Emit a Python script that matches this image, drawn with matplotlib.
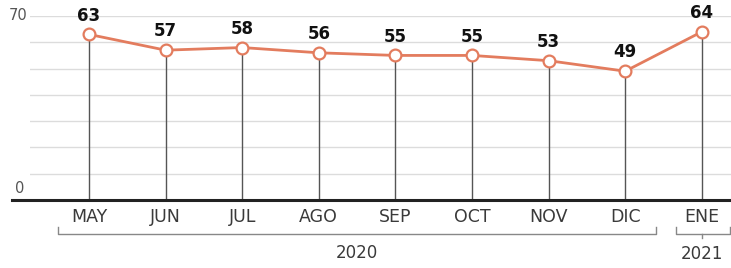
import matplotlib.pyplot as plt

# Data
months = ["MAY", "JUN", "JUL", "AGO", "SEP", "OCT", "NOV", "DIC", "ENE"]
values = [63, 57, 58, 56, 55, 55, 53, 49, 64]
years = ["2020", "2021"]
grid_levels = [10, 20, 30, 40, 50, 60, 70]

line_color = "#E37C5E"
text_color = "#3a3a3a"

fig = plt.figure(figsize=(7.31, 2.68), dpi=100)
# axes placed so that y=0 sits at px 200 and y=70 at px 16
ax = fig.add_axes([30 / 731, 68 / 268, 701 / 731, 184 / 268])
x = list(range(len(months)))
ax.set_xlim(-0.770, 8.381)
ax.set_ylim(0, 70)
ax.axis("off")

for g in grid_levels:
    ax.axhline(g, color="#dcdcdc", lw=1, zorder=1)

# vertical drop lines
for xi, v in zip(x, values):
    ax.plot([xi, xi], [0, v], color="#555555", lw=1, zorder=2)

ax.plot(x, values, color=line_color, lw=2, marker="o", markersize=8.5,
        markerfacecolor="white", markeredgecolor=line_color, markeredgewidth=1.6,
        zorder=4)

for xi, v in zip(x, values):
    ax.annotate(str(v), (xi, v), xytext=(0, 7), textcoords="offset points",
                ha="center", va="bottom", fontsize=12, fontweight="bold",
                color="#111111", zorder=5)

# baseline
ax.plot([-1.005, 8.381], [0, 0], color="#222222", lw=2.2, clip_on=False, zorder=3)

# y labels
ax.text(-0.80, 70, "70", ha="right", va="center", fontsize=10.5, color="#555555")
ax.text(-0.97, 1.5, "0", ha="left", va="bottom", fontsize=10.5, color="#555555")

# month labels
for xi, m in zip(x, months):
    ax.text(xi, -6.6, m, ha="center", va="center", fontsize=12.5,
            color=text_color, clip_on=False)

# year brackets
bc = "#888888"
y_br, y_tip = -12.9, -10.2
x0, x1 = (58 - 89) / 76.6, (656 - 89) / 76.6
ax.plot([x0, x0, x1, x1], [y_tip, y_br, y_br, y_tip], color=bc, lw=1, clip_on=False)
ax.text((x0 + x1) / 2, -20.0, years[0], ha="center", va="center", fontsize=12,
        color=text_color, clip_on=False)

x2, x3 = (676 - 89) / 76.6, (730 - 89) / 76.6
ax.plot([x2, x2, x3, x3], [y_tip, y_br, y_br, y_tip], color=bc, lw=1, clip_on=False)
ax.plot([8, 8], [y_br, -14.6], color=bc, lw=1, clip_on=False)
ax.text(8, -20.4, years[1], ha="center", va="center", fontsize=12,
        color=text_color, clip_on=False)

fig.savefig("out.png", dpi=100)
